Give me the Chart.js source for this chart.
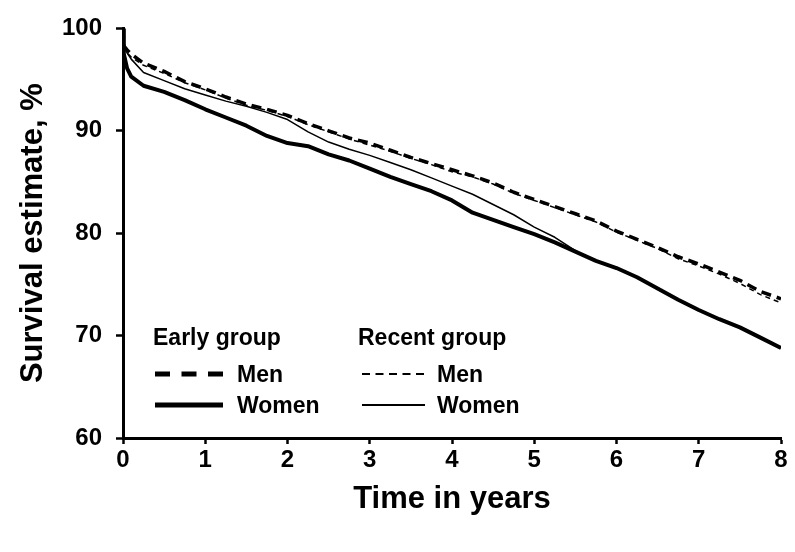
<!DOCTYPE html>
<html><head><meta charset="utf-8">
<script src="https://cdn.jsdelivr.net/npm/chart.js@4.4.1/dist/chart.umd.min.js"></script>
<style>html,body{margin:0;padding:0;background:#fff;} #wrap{width:795px;height:552px;}</style>
</head><body><div id="wrap"><canvas id="c" width="795" height="552"></canvas></div>
<script>
// ---- data ----
const timeYears = [0, 0.01, 0.05, 0.1, 0.25, 0.5, 0.75, 1, 1.25, 1.5, 1.75, 2, 2.25, 2.5, 2.75, 3, 3.25, 3.5, 3.75, 4, 4.25, 4.5, 4.75, 5, 5.25, 5.5, 5.75, 6, 6.25, 6.5, 6.75, 7, 7.25, 7.5, 7.75, 8];
const earlyMen    = [100, 98.3, 97.9, 97.5, 96.6, 95.8, 94.8, 94.1, 93.3, 92.6, 92.1, 91.5, 90.7, 90.0, 89.3, 88.8, 88.1, 87.4, 86.8, 86.2, 85.6, 84.9, 84.0, 83.3, 82.6, 81.9, 81.2, 80.2, 79.4, 78.6, 77.7, 77.0, 76.2, 75.4, 74.3, 73.6];
const recentMen   = [100, 98.0, 97.6, 97.2, 96.4, 95.6, 94.7, 94.0, 93.2, 92.5, 92.0, 91.4, 90.6, 89.9, 89.2, 88.6, 88.0, 87.3, 86.7, 86.0, 85.5, 84.8, 83.9, 83.2, 82.5, 81.8, 81.1, 80.1, 79.3, 78.5, 77.5, 76.8, 76.0, 75.1, 74.0, 73.2];
const earlyWomen  = [100, 97.5, 96.1, 95.3, 94.4, 93.8, 93.0, 92.1, 91.3, 90.5, 89.5, 88.8, 88.5, 87.7, 87.1, 86.3, 85.5, 84.8, 84.1, 83.2, 82.0, 81.3, 80.6, 79.9, 79.1, 78.2, 77.3, 76.6, 75.7, 74.6, 73.5, 72.5, 71.6, 70.8, 69.8, 68.8];
const recentWomen = [100, 98.2, 97.6, 97.0, 95.7, 94.9, 94.1, 93.5, 92.9, 92.4, 91.8, 91.1, 89.9, 88.9, 88.2, 87.6, 86.9, 86.2, 85.4, 84.6, 83.8, 82.8, 81.8, 80.6, 79.6, 78.3, 77.3, 76.6, 75.7, 74.6, 73.5, 72.5, 71.6, 70.8, 69.8, 68.8];
const xTicks = [0, 1, 2, 3, 4, 5, 6, 7, 8];
const yTicks = [60, 70, 80, 90, 100];
const groupHeaders = ['Early group', 'Recent group'];
const sexLabels = ['Men', 'Women'];
const xTitle = 'Time in years';
const yTitle = 'Survival estimate, %';

const FONT = '"Liberation Sans", Arial, Helvetica, sans-serif';
const pts = arr => timeYears.map((t, i) => ({x: t, y: arr[i]}));

const styles = {
  earlyMen:    {borderWidth: 3.5, borderDash: [10, 6]},
  recentMen:   {borderWidth: 1.5, borderDash: [5, 4]},
  earlyWomen:  {borderWidth: 4,   borderDash: []},
  recentWomen: {borderWidth: 1.5, borderDash: []}
};

const legendPlugin = {
  id: 'groupLegend',
  afterDatasetsDraw(chart) {
    const ctx = chart.ctx;
    ctx.save();
    ctx.fillStyle = '#000';
    ctx.strokeStyle = '#000';
    ctx.textBaseline = 'alphabetic';
    ctx.textAlign = 'left';
    ctx.font = 'bold 23px ' + FONT;
    ctx.fillText(groupHeaders[0], 153, 345);
    ctx.fillText(groupHeaders[1], 358, 345);
    ctx.fillText(sexLabels[0], 237, 382);
    ctx.fillText(sexLabels[1], 237, 413);
    ctx.fillText(sexLabels[0], 437, 382);
    ctx.fillText(sexLabels[1], 437, 413);
    const seg = (x1, x2, y, w, dash) => {
      ctx.beginPath(); ctx.lineWidth = w; ctx.setLineDash(dash); ctx.lineCap = 'butt';
      ctx.moveTo(x1, y); ctx.lineTo(x2, y); ctx.stroke();
    };
    seg(155, 223, 374, 5, [15, 11.5]);
    seg(155, 223, 405, 5, []);
    seg(362, 425, 374, 1.8, [8, 5.5]);
    seg(362, 425, 405, 1.8, []);
    ctx.restore();
  }
};

new Chart(document.getElementById('c'), {
  type: 'line',
  data: {
    datasets: [
      {label: 'Early group Men', data: pts(earlyMen), borderColor: '#000', ...styles.earlyMen},
      {label: 'Recent group Men', data: pts(recentMen), borderColor: '#000', ...styles.recentMen},
      {label: 'Early group Women', data: pts(earlyWomen), borderColor: '#000', ...styles.earlyWomen},
      {label: 'Recent group Women', data: pts(recentWomen), borderColor: '#000', ...styles.recentWomen}
    ]
  },
  options: {
    responsive: false,
    animation: false,
    devicePixelRatio: 1,
    layout: {padding: {left: 0, top: 18, right: 14, bottom: 0}},
    elements: {point: {radius: 0}, line: {tension: 0, borderJoinStyle: 'round'}},
    plugins: {legend: {display: false}, tooltip: {enabled: false}},
    scales: {
      x: {
        type: 'linear', min: 0, max: 8,
        afterBuildTicks: s => { s.ticks = xTicks.map(v => ({value: v})); },
        afterFit: s => { s.height = 114; },
        ticks: {color: '#000', font: {family: FONT, size: 24, weight: 'bold'}, padding: 2},
        grid: {display: true, drawOnChartArea: false, drawTicks: true, tickLength: 6, tickWidth: 2.5, tickColor: '#000'},
        border: {display: true, color: '#000', width: 3},
        title: {display: true, text: xTitle, color: '#000', font: {family: FONT, size: 31, weight: 'bold'}, padding: {top: 0, bottom: 34}}
      },
      y: {
        type: 'linear', min: 60, max: 100,
        afterBuildTicks: s => { s.ticks = yTicks.map(v => ({value: v})); },
        afterFit: s => { s.width = 123; },
        ticks: {color: '#000', font: {family: FONT, size: 24, weight: 'bold'}, padding: 14},
        grid: {display: true, drawOnChartArea: false, drawTicks: true, tickLength: 7, tickWidth: 2.5, tickColor: '#000'},
        border: {display: true, color: '#000', width: 3},
        title: {display: true, text: yTitle, color: '#000', font: {family: FONT, size: 31, weight: 'bold'}, padding: {top: 15, bottom: 0}}
      }
    }
  },
  plugins: [legendPlugin]
});
</script>
</body></html>
